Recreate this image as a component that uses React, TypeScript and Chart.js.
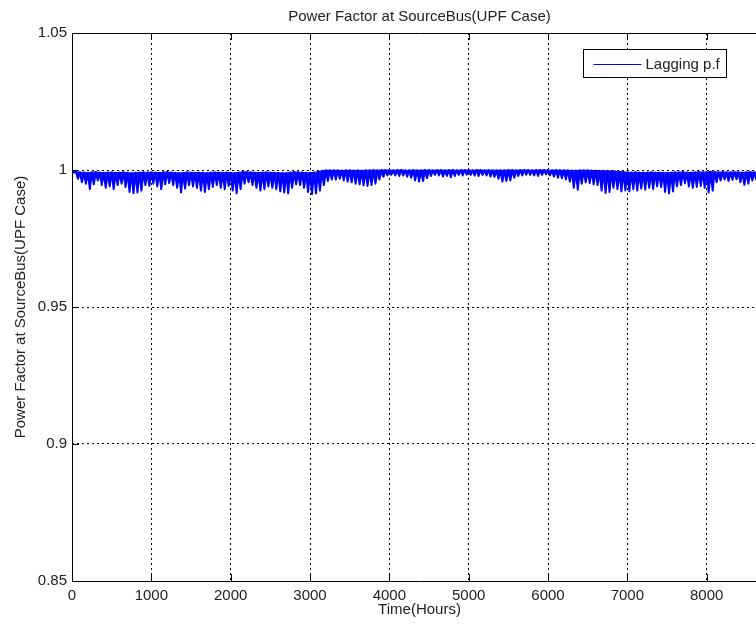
import { useEffect, useRef } from 'react';
import { Chart, registerables } from 'chart.js';

Chart.register(...registerables);

// Hourly power factor summarised in 50-hour bins: each bin has a peak and a trough value.
const HOURS_PER_BIN = 50;
const X_MAX = 8760;

const xTickValues = [0, 1000, 2000, 3000, 4000, 5000, 6000, 7000, 8000];
const yTickValues = [0.85, 0.9, 0.95, 1, 1.05];
const yTickLabels = ['0.85', '0.9', '0.95', '1', '1.05'];

const binPeaks = [
  // 0 - 950 h
  1.0, 0.9994, 0.9992, 0.9991, 0.999, 0.9992, 0.9993, 0.9991, 0.999, 0.9991,
  0.9992, 0.999, 0.9991, 0.9992, 0.999, 0.9989, 0.999, 0.9991, 0.9992, 0.9991,
  // 1000 - 1950 h
  0.9992, 0.9991, 0.999, 0.9992, 0.9993, 0.9991, 0.999, 0.9989, 0.999, 0.9992,
  0.9991, 0.999, 0.9991, 0.999, 0.9989, 0.9991, 0.9992, 0.9991, 0.999, 0.9991,
  // 2000 - 2950 h
  0.999, 0.9989, 0.9991, 0.9993, 0.9993, 0.9992, 0.9991, 0.999, 0.9991, 0.9992,
  0.9991, 0.999, 0.999, 0.9989, 0.9989, 0.9991, 0.9993, 0.9992, 0.9991, 0.999,
  // 3000 - 3950 h
  0.999, 0.9991, 0.9994, 0.9997, 0.9999, 0.9999, 0.9999, 0.9999, 0.9998, 0.9999,
  0.9999, 0.9998, 0.9999, 0.9998, 0.9999, 0.9999, 1.0, 0.9999, 1.0, 1.0,
  // 4000 - 4950 h
  1.0, 0.9999, 1.0, 1.0, 0.9999, 0.9999, 1.0, 0.9999, 0.9999, 1.0,
  1.0, 0.9999, 1.0, 1.0, 0.9999, 1.0, 1.0, 0.9999, 1.0, 1.0,
  // 5000 - 5950 h
  1.0, 0.9999, 1.0, 1.0, 0.9999, 1.0, 0.9999, 0.9999, 0.9999, 0.9999,
  1.0, 1.0, 0.9999, 1.0, 1.0, 1.0, 0.9999, 1.0, 1.0, 1.0,
  // 6000 - 6950 h
  1.0, 0.9999, 1.0, 0.9999, 0.9999, 0.9999, 0.9998, 0.9998, 0.9999, 0.9999,
  0.9999, 0.9998, 0.9998, 0.9997, 0.9997, 0.9997, 0.9996, 0.9995, 0.9994, 0.9993,
  // 7000 - 7950 h
  0.9992, 0.9991, 0.9992, 0.9991, 0.999, 0.9991, 0.9992, 0.9991, 0.9991, 0.999,
  0.999, 0.9991, 0.9992, 0.9992, 0.9993, 0.9991, 0.9991, 0.9992, 0.9993, 0.9992,
  // 8000 - 8750 h
  0.9993, 0.9994, 0.9993, 0.9992, 0.9993, 0.9992, 0.9992, 0.9993, 0.9992, 0.9991,
  0.9992, 0.9993, 0.9992, 0.9992, 0.9993, 0.9992,
];

const binTroughs = [
  // 0 - 950 h
  0.999, 0.9968, 0.9955, 0.995, 0.993, 0.9948, 0.9962, 0.9945, 0.9935, 0.994,
  0.993, 0.9945, 0.995, 0.9938, 0.992, 0.9915, 0.9918, 0.9925, 0.9945, 0.9942,
  // 1000 - 1950 h
  0.995, 0.994, 0.993, 0.9948, 0.9952, 0.9945, 0.9935, 0.9918, 0.9932, 0.9945,
  0.994, 0.9935, 0.9925, 0.992, 0.993, 0.9938, 0.9945, 0.9935, 0.993, 0.9942,
  // 2000 - 2950 h
  0.9925, 0.9915, 0.993, 0.995, 0.9955, 0.9945, 0.9935, 0.9925, 0.993, 0.994,
  0.9935, 0.993, 0.9922, 0.9918, 0.9915, 0.9935, 0.9948, 0.9945, 0.9935, 0.992,
  // 3000 - 3950 h
  0.9912, 0.9915, 0.9925, 0.9945, 0.996, 0.9965, 0.9965, 0.9968, 0.9962, 0.9958,
  0.9955, 0.995, 0.9948, 0.9944, 0.9942, 0.9945, 0.995, 0.9965, 0.9975, 0.998,
  // 4000 - 4950 h
  0.9982, 0.998, 0.9978, 0.998, 0.9976, 0.9972, 0.9962, 0.9958, 0.996, 0.997,
  0.9978, 0.9982, 0.998, 0.9976, 0.9978, 0.9974, 0.9978, 0.9982, 0.998, 0.9983,
  // 5000 - 5950 h
  0.9982, 0.998, 0.9978, 0.9982, 0.998, 0.9976, 0.9975, 0.9968, 0.9958, 0.996,
  0.9962, 0.9972, 0.9978, 0.998, 0.9983, 0.9982, 0.998, 0.9978, 0.9982, 0.9984,
  // 6000 - 6950 h
  0.998, 0.9976, 0.9972, 0.997, 0.9965, 0.9958, 0.9935, 0.9928, 0.995, 0.9955,
  0.9952, 0.9948, 0.9945, 0.9925, 0.9916, 0.992, 0.9935, 0.993, 0.9922, 0.9925,
  // 7000 - 7950 h
  0.9922, 0.993, 0.9925, 0.9932, 0.9928, 0.9935, 0.993, 0.994, 0.9938, 0.992,
  0.9915, 0.9922, 0.994, 0.9945, 0.9952, 0.994, 0.9935, 0.9938, 0.9942, 0.9935,
  // 8000 - 8750 h
  0.9918, 0.9925, 0.9955, 0.9962, 0.9965, 0.996, 0.9964, 0.9966, 0.9955, 0.9946,
  0.995, 0.9962, 0.9964, 0.996, 0.9965, 0.9962,
];

const chartTitle = 'Power Factor at SourceBus(UPF Case)';
const xAxisTitle = 'Time(Hours)';
const yAxisTitle = 'Power Factor at SourceBus(UPF Case)';
const seriesLabel = 'Lagging p.f';

const CANVAS_W = 800;
const CANVAS_H = 626;
const FONT_FAMILY = '"Liberation Sans", Arial, Helvetica, sans-serif';
const TEXT_COLOR = '#222';
const LINE_BLUE = '#0000ff';
const TICK_LEN = 7;

const font = { family: FONT_FAMILY, size: 15 };

// Frame, inward tick marks, legend box and title, drawn the way MATLAB does.
const matlabFrame = {
  id: 'matlabFrame',
  afterDatasetsDraw(chart: any) {
    const { ctx, chartArea, scales } = chart;
    const { left, right, top, bottom } = chartArea;
    ctx.save();
    ctx.strokeStyle = '#000';
    ctx.lineWidth = 1;
    ctx.setLineDash([]);
    ctx.beginPath();
    ctx.moveTo(left, top + 0.5);
    ctx.lineTo(right, top + 0.5);
    ctx.moveTo(left + 0.5, top);
    ctx.lineTo(left + 0.5, bottom);
    ctx.moveTo(left, bottom + 0.5);
    ctx.lineTo(right, bottom + 0.5);
    ctx.moveTo(right - 0.5, top);
    ctx.lineTo(right - 0.5, bottom);
    for (const v of xTickValues) {
      const x = Math.round(scales.x.getPixelForValue(v)) + 0.5;
      ctx.moveTo(x, bottom);
      ctx.lineTo(x, bottom - TICK_LEN);
      ctx.moveTo(x, top);
      ctx.lineTo(x, top + TICK_LEN);
    }
    for (const v of yTickValues) {
      const y = Math.round(scales.y.getPixelForValue(v)) + 0.5;
      ctx.moveTo(left, y);
      ctx.lineTo(left + TICK_LEN, y);
      ctx.moveTo(right, y);
      ctx.lineTo(right - TICK_LEN, y);
    }
    ctx.stroke();

    // legend
    const ds = chart.data.datasets[0];
    const boxW = 143;
    const boxH = 28;
    const bx = Math.round(right - 41 - boxW) + 0.5;
    const by = Math.round(top + 16) + 0.5;
    ctx.fillStyle = '#fff';
    ctx.fillRect(bx, by, boxW, boxH);
    ctx.strokeStyle = '#000';
    ctx.strokeRect(bx, by, boxW, boxH);
    const ly = Math.round(by + boxH / 2) + 0.5;
    ctx.strokeStyle = ds.borderColor;
    ctx.lineWidth = 1;
    ctx.beginPath();
    ctx.moveTo(bx + 10, ly);
    ctx.lineTo(bx + 58, ly);
    ctx.stroke();
    ctx.fillStyle = TEXT_COLOR;
    ctx.font = `15px ${FONT_FAMILY}`;
    ctx.textAlign = 'left';
    ctx.textBaseline = 'middle';
    ctx.fillText(ds.label, bx + 62, ly);

    // title
    ctx.textAlign = 'center';
    ctx.fillText(chartTitle, (left + right) / 2, 17);
    ctx.restore();
  },
};

// Alternating peak / trough samples, half a bin apart.
function buildSignal() {
  const pts: { x: number; y: number }[] = [];
  binPeaks.forEach((peak, i) => {
    const t = i * HOURS_PER_BIN;
    pts.push({ x: t, y: peak });
    pts.push({ x: t + HOURS_PER_BIN / 2, y: binTroughs[i] });
  });
  return pts;
}

// Upper envelope through the peaks only; the signal is shaded up to it.
function buildPeakEnvelope() {
  return binPeaks.map((peak, i) => ({ x: i * HOURS_PER_BIN, y: peak }));
}

export default function App() {
  const canvasRef = useRef<HTMLCanvasElement | null>(null);

  useEffect(() => {
    const canvas = canvasRef.current;
    if (!canvas) return;
    const chart = new Chart(canvas, {
      type: 'line',
      data: {
        datasets: [
          {
            label: seriesLabel,
            data: buildSignal(),
            borderColor: LINE_BLUE,
            backgroundColor: 'rgba(0, 0, 255, 0.92)',
            borderWidth: 2,
            borderJoinStyle: 'round',
            pointRadius: 0,
            fill: '+1',
            tension: 0,
          },
          {
            label: 'peak',
            data: buildPeakEnvelope(),
            borderColor: LINE_BLUE,
            borderWidth: 1,
            pointRadius: 0,
            fill: false,
            tension: 0,
          },
        ],
      },
      options: {
        responsive: false,
        animation: false,
        events: [],
        layout: { padding: { top: 33, right: CANVAS_W - 767, left: 0, bottom: 0 } },
        plugins: {
          legend: { display: false },
          title: { display: false },
          tooltip: { enabled: false },
        },
        scales: {
          x: {
            type: 'linear',
            min: 0,
            max: X_MAX,
            afterBuildTicks: (s: any) => {
              s.ticks = xTickValues.map((v) => ({ value: v }));
            },
            afterFit: (s: any) => {
              s.height = 45;
            },
            ticks: {
              autoSkip: false,
              maxRotation: 0,
              padding: 6,
              font,
              color: TEXT_COLOR,
              callback: (v: any) => String(v),
            },
            grid: { color: '#000', lineWidth: 1, drawTicks: false },
            border: { display: false, dash: [2, 3] },
            title: {
              display: true,
              text: xAxisTitle,
              font,
              color: TEXT_COLOR,
              padding: { top: 0, bottom: 7 },
            },
          },
          y: {
            type: 'linear',
            min: 0.85,
            max: 1.05,
            afterBuildTicks: (s: any) => {
              s.ticks = yTickValues.map((v) => ({ value: v }));
            },
            afterFit: (s: any) => {
              s.width = 72;
            },
            ticks: {
              autoSkip: false,
              padding: 5,
              font,
              color: TEXT_COLOR,
              callback: (v: any) => {
                const i = yTickValues.findIndex((t) => Math.abs(t - Number(v)) < 1e-9);
                return i >= 0 ? yTickLabels[i] : '';
              },
            },
            grid: { color: '#000', lineWidth: 1, drawTicks: false },
            border: { display: false, dash: [2, 3] },
            title: {
              display: true,
              text: yAxisTitle,
              font,
              color: TEXT_COLOR,
              padding: { top: 12, bottom: 0 },
            },
          },
        },
      },
      plugins: [matlabFrame],
    });
    return () => chart.destroy();
  }, []);

  return (
    <div
      style={{
        position: 'fixed',
        left: 0,
        top: 0,
        width: 756,
        height: 626,
        overflow: 'hidden',
        background: '#fff',
      }}
    >
      <canvas ref={canvasRef} width={CANVAS_W} height={CANVAS_H} style={{ display: 'block' }} />
    </div>
  );
}
